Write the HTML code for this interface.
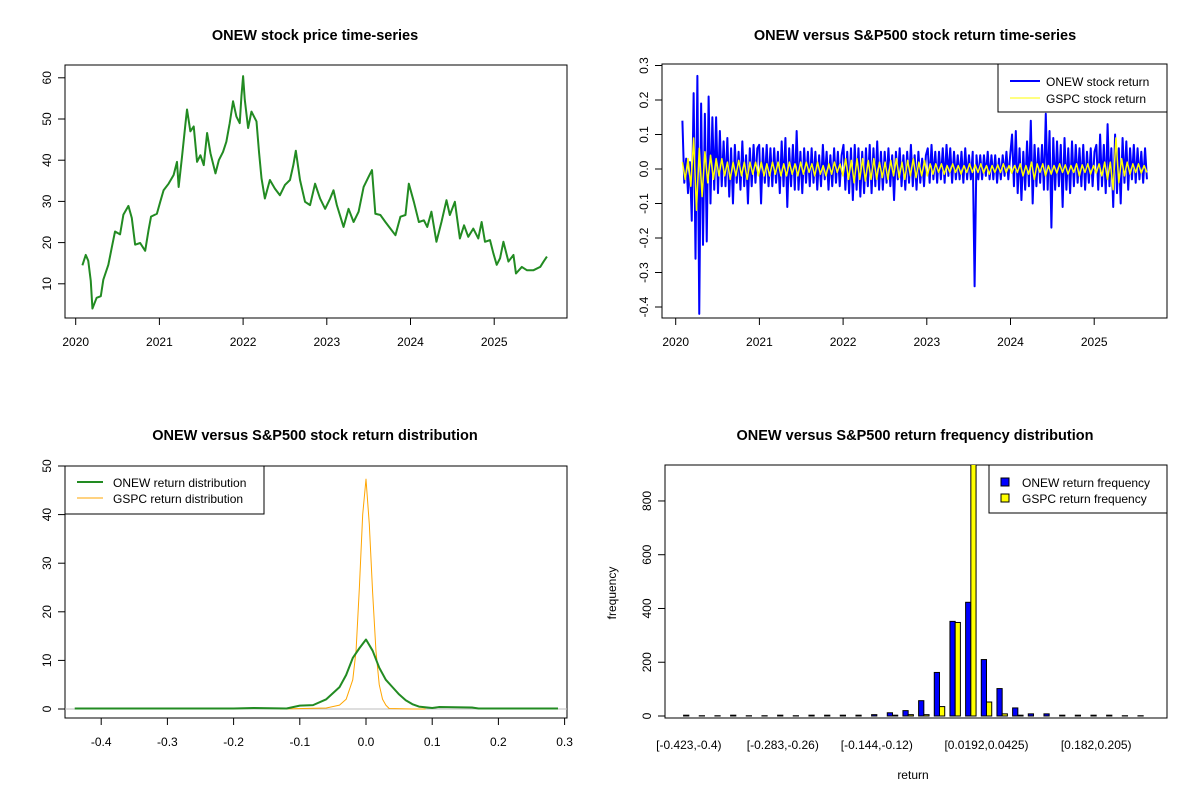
<!DOCTYPE html>
<html><head><meta charset="utf-8"><style>
body{margin:0;background:#fff}
svg{display:block;font-family:"Liberation Sans",Arial,sans-serif}
.t{font-weight:bold;font-size:14.5px;text-anchor:middle}
.tk{font-size:12px}
</style></head><body>
<svg id="c" width="1200" height="800" xmlns="http://www.w3.org/2000/svg">
<rect width="1200" height="800" fill="#fff"/>
<text class="t" x="315" y="40">ONEW stock price time-series</text>
<text class="t" x="915" y="40">ONEW versus S&amp;P500 stock return time-series</text>
<text class="t" x="315" y="440">ONEW versus S&amp;P500 stock return distribution</text>
<text class="t" x="915" y="440">ONEW versus S&amp;P500 return frequency distribution</text>
<text class="tk" x="913" y="779" text-anchor="middle">return</text>
<text class="tk" transform="translate(616,593) rotate(-90)" text-anchor="middle">frequency</text>
<g id="g"></g>
</svg>
<script>
// ---- Panel 1: price ----
const priceYears=[0.08,0.12,0.15,0.18,0.20,0.25,0.30,0.33,0.39,0.43,0.47,0.53,0.57,0.63,0.67,0.71,0.77,0.83,0.87,0.90,0.97,1.01,1.05,1.11,1.17,1.21,1.23,1.27,1.31,1.33,1.37,1.41,1.45,1.49,1.53,1.57,1.61,1.67,1.71,1.76,1.80,1.84,1.88,1.92,1.96,1.98,2.00,2.02,2.06,2.10,2.16,2.19,2.22,2.26,2.32,2.38,2.44,2.50,2.56,2.60,2.63,2.68,2.74,2.80,2.86,2.92,2.98,3.04,3.08,3.12,3.20,3.26,3.32,3.38,3.44,3.50,3.54,3.58,3.64,3.70,3.76,3.82,3.88,3.94,3.98,4.04,4.10,4.16,4.20,4.25,4.31,4.37,4.43,4.47,4.53,4.59,4.64,4.69,4.75,4.81,4.85,4.89,4.95,4.99,5.03,5.07,5.11,5.17,5.23,5.26,5.33,5.39,5.47,5.55,5.59,5.63];
const prices=[14.5,17,15.6,10.7,4,6.6,7,11,14.6,18.7,22.7,22,26.8,28.9,26,19.5,19.9,18,23,26.3,27,29.9,32.7,34.3,36.4,39.6,33.5,40.8,48.6,52.3,47,48.2,39.6,41.2,38.8,46.6,41.7,36.8,40,42,44.5,49,54.3,50.6,49,55.5,60.4,54.7,47.8,51.8,49.4,42,35.6,30.7,35.2,33.1,31.5,34,35.2,38.8,42.3,35.2,29.9,29.1,34.3,30.7,28.2,30.7,32.7,29.1,23.8,28.2,25,27.5,33.5,36,37.6,27,26.7,25,23.4,21.8,26.3,26.7,34.3,29.9,25,25.4,23.8,27.5,20.2,25,30.3,26.7,29.9,21,24.2,21.4,23.4,21,25,20.2,20.6,17.4,14.6,16.2,20.2,15.4,17,12.5,14.1,13.3,13.3,14.1,15.4,16.6];
const priceTicks=[10,20,30,40,50,60];
const yearTicks=[2020,2021,2022,2023,2024,2025];
// ---- Panel 2: returns ----
const onewReturns=[0.14,-0.04,0.03,-0.07,0.02,-0.15,0.22,-0.26,0.27,-0.42,0.19,-0.22,0.16,-0.21,
0.21,-0.1,0.15,-0.06,0.15,-0.07,0.11,-0.05,0.08,-0.05,0.09,-0.08,0.06,-0.1,0.07,-0.04,0.05,-0.06,0.08,-0.05,0.04,-0.1,0.06,-0.05,0.07,-0.04,0.06,
0.07,-0.1,0.06,-0.04,0.07,-0.05,0.06,-0.05,0.06,-0.04,0.05,-0.07,0.08,-0.05,0.09,-0.11,0.06,-0.05,0.07,-0.06,0.11,-0.06,0.05,-0.07,0.06,-0.04,0.05,-0.05,0.06,-0.04,0.05,-0.06,0.04,-0.05,0.07,-0.03,0.05,-0.06,0.04,-0.05,0.06,-0.04,0.05,-0.05,0.04,
0.07,-0.06,0.05,-0.07,0.06,-0.09,0.07,-0.06,0.06,-0.08,0.05,-0.07,0.06,-0.05,0.07,-0.07,0.06,-0.05,0.08,-0.06,0.05,-0.06,0.05,-0.04,0.06,-0.05,0.04,-0.09,0.05,-0.03,0.06,-0.05,0.04,-0.06,0.05,-0.04,0.07,-0.05,0.04,-0.06,0.05,-0.04,0.03,-0.05,0.04,
0.06,-0.04,0.07,-0.03,0.05,-0.04,0.05,-0.03,0.06,-0.04,0.07,-0.02,0.06,-0.04,0.05,-0.03,0.04,-0.03,0.05,-0.04,0.06,-0.03,0.04,-0.03,0.05,-0.34,0.04,-0.03,0.04,-0.03,0.04,-0.02,0.05,-0.03,0.04,-0.03,0.04,-0.04,0.03,-0.03,0.04,-0.02,0.05,-0.03,0.04,
0.1,-0.05,0.11,-0.07,0.06,-0.09,0.05,-0.06,0.08,-0.05,0.14,-0.1,0.07,-0.05,0.06,-0.04,0.07,-0.06,0.16,-0.06,0.11,-0.17,0.09,-0.06,0.08,-0.05,0.07,-0.11,0.09,-0.06,0.06,-0.07,0.08,-0.05,0.07,-0.04,0.06,-0.05,0.07,-0.06,0.05,-0.04,0.06,-0.05,0.05,
0.07,-0.06,0.1,-0.05,0.07,-0.07,0.13,-0.05,0.06,-0.11,0.1,-0.07,0.06,-0.1,0.09,-0.04,0.08,-0.06,0.06,-0.03,0.07,-0.04,0.06,-0.03,0.05,-0.04,0.06,-0.03];
const gspcReturns=[0.02,-0.03,0.03,-0.05,0.09,-0.12,0.06,-0.08,0.05,-0.04,0.04,-0.03,0.03,-0.02,0.03,-0.02,0.02,-0.03,0.02,-0.02,0.025,-0.02,0.02,-0.03,0.02,-0.015,0.02,-0.02,
0.02,-0.02,0.015,-0.02,0.02,-0.015,0.02,-0.02,0.015,-0.02,0.02,-0.015,0.015,-0.02,0.02,-0.015,0.02,-0.01,0.015,-0.02,0.02,-0.015,0.01,-0.02,0.015,-0.015,0.02,-0.01,0.015,-0.02,
0.03,-0.03,0.025,-0.04,0.03,-0.03,0.03,-0.035,0.025,-0.03,0.03,-0.03,0.02,-0.025,0.02,-0.03,0.025,-0.02,0.03,-0.025,0.02,-0.03,0.025,-0.02,0.03,-0.025,0.02,-0.02,0.025,-0.02,
0.015,-0.015,0.015,-0.01,0.015,-0.015,0.01,-0.01,0.015,-0.01,0.01,-0.015,0.01,-0.01,0.015,-0.01,0.012,-0.01,0.015,-0.012,0.01,-0.015,0.01,-0.01,0.012,-0.01,0.015,-0.01,0.01,-0.012,
0.01,-0.01,0.015,-0.02,0.01,-0.015,0.02,-0.03,0.015,-0.01,0.015,-0.02,0.01,-0.015,0.01,-0.012,0.015,-0.01,0.012,-0.015,0.01,-0.01,0.015,-0.02,0.012,-0.01,0.015,-0.015,0.01,-0.012,
0.015,-0.02,0.02,-0.03,0.02,-0.06,0.09,-0.04,0.03,-0.02,0.02,-0.015,0.015,-0.01,0.015,-0.012,0.01,-0.01];
const returnStartYear=2020.08, returnEndYear=2025.63;
const returnTicks=[-0.4,-0.3,-0.2,-0.1,0,0.1,0.2,0.3];
// ---- Panel 3: density ----
const onewDensX=[-0.44,-0.2,-0.17,-0.12,-0.1,-0.08,-0.06,-0.04,-0.03,-0.02,-0.01,0,0.01,0.02,0.03,0.04,0.05,0.06,0.07,0.08,0.1,0.11,0.16,0.17,0.29];
const onewDensY=[0.1,0.1,0.2,0.1,0.7,0.8,2,4.5,7,10.5,12.5,14.3,12,8.5,6,4.5,3,1.8,1,0.5,0.2,0.4,0.3,0.1,0.1];
const gspcDensX=[-0.13,-0.06,-0.04,-0.03,-0.02,-0.015,-0.01,-0.005,0,0.005,0.01,0.015,0.02,0.025,0.03,0.035,0.07,0.09];
const gspcDensY=[0,0.2,0.8,2,6,12,25,40,47.3,38,24,12,5,2,0.8,0.1,0,0];
const densXTicks=[-0.4,-0.3,-0.2,-0.1,0,0.1,0.2,0.3];
const densYTicks=[0,10,20,30,40,50];
// ---- Panel 4: histogram ----
const binLabels=["[-0.423,-0.4)","","","","","","[-0.283,-0.26)","","","","","","[-0.144,-0.12)","","","","","","","[0.0192,0.0425)","","","","","","","[0.182,0.205)","","",""];
const onewCounts=[3,1,1,3,1,1,3,1,3,3,3,3,5,12,20,57,162,352,423,210,102,30,8,8,3,3,3,3,1,1];
const gspcCounts=[0,0,0,0,0,0,0,0,0,0,0,0,0,3,5,5,35,348,960,52,8,3,0,0,0,0,0,0,0,0];
const freqTicks=[0,200,400,600,800];

const NS="http://www.w3.org/2000/svg", G=document.getElementById('g');
function mk(t,a,p){const e=document.createElementNS(NS,t);for(const k in a)e.setAttribute(k,a[k]);(p||G).appendChild(e);return e;}
function box(x0,y0,x1,y1,name){const r=mk('rect',{x:x0,y:y0,width:x1-x0,height:y1-y0,fill:'none',stroke:'#000','stroke-width':1});

}
function xAxis(vals,fx,yb,labels,name){const g=mk('g',{});


mk('line',{x1:fx(vals[0]),x2:fx(vals[vals.length-1]),y1:yb,y2:yb,stroke:'#000'},g);
vals.forEach((v,i)=>{mk('line',{x1:fx(v),x2:fx(v),y1:yb,y2:yb+7,stroke:'#000'},g);
const t=mk('text',{x:fx(v),y:yb+28,'text-anchor':'middle',class:'tk'},g);t.textContent=labels[i];});}
function yAxis(vals,fy,xl,labels,name){const g=mk('g',{});


mk('line',{x1:xl,x2:xl,y1:fy(vals[0]),y2:fy(vals[vals.length-1]),stroke:'#000'},g);
vals.forEach((v,i)=>{mk('line',{x1:xl,x2:xl-7,y1:fy(v),y2:fy(v),stroke:'#000'},g);
const t=mk('text',{transform:`translate(${xl-14},${fy(v)}) rotate(-90)`,'text-anchor':'middle',class:'tk'},g);t.textContent=labels[i];});}
function poly(xs,ys,color,w,name,clip){const p=mk('polyline',{points:xs.map((x,i)=>x+','+ys[i]).join(' '),fill:'none',stroke:color,'stroke-width':w,'stroke-linejoin':'round'});
if(clip)p.setAttribute('clip-path',clip);

}

// Panel 1
{const fx=y=>75.7+(y-2020)*83.7, fy=v=>283.8-(v-10)*4.12;
box(65,65,567,318,'price-plot-box');
xAxis(yearTicks,fx,318,yearTicks.map(String),'price-x-axis');
yAxis(priceTicks,fy,65,priceTicks.map(String),'price-y-axis');
poly(priceYears.map(y=>fx(2020+y)),prices.map(fy),'#228B22',2,'price-line');}

// Panel 2
{const fx=y=>675.7+(y-2020)*83.7, fy=v=>169-v*345;
box(662,64,1167,318,'return-plot-box');
xAxis(yearTicks,fx,318,yearTicks.map(String),'return-x-axis');
yAxis(returnTicks,fy,662,returnTicks.map(v=>v.toFixed(1)),'return-y-axis');
const n1=onewReturns.length, n2=gspcReturns.length;
poly(onewReturns.map((v,i)=>fx(returnStartYear+i*(returnEndYear-returnStartYear)/(n1-1))),onewReturns.map(fy),'#0000FF',2,'onew-return-line');
poly(gspcReturns.map((v,i)=>fx(returnStartYear+i*(returnEndYear-returnStartYear)/(n2-1))),gspcReturns.map(fy),'#FFFF00',1.5,'gspc-return-line');
const lg=mk('g',{});
mk('rect',{x:998,y:64,width:169,height:48,fill:'#fff',stroke:'#000'},lg);
mk('line',{x1:1010,x2:1040,y1:81,y2:81,stroke:'#0000FF','stroke-width':2},lg);
mk('line',{x1:1010,x2:1040,y1:98,y2:98,stroke:'#FFFF00','stroke-width':1},lg);
let t=mk('text',{x:1046,y:86,class:'tk'},lg);t.textContent='ONEW stock return';
t=mk('text',{x:1046,y:103,class:'tk'},lg);t.textContent='GSPC stock return';}

// Panel 3
{const fx=v=>366+v*662, fy=v=>709-v*4.86;
box(65,466,567,718,'distribution-plot-box');
xAxis(densXTicks,fx,718,densXTicks.map(v=>v.toFixed(1)),'distribution-x-axis');
yAxis(densYTicks,fy,65,densYTicks.map(String),'distribution-y-axis');
const z=mk('line',{x1:65,x2:567,y1:fy(0),y2:fy(0),stroke:'#bebebe'});
poly(gspcDensX.map(fx),gspcDensY.map(fy),'#FFA500',1,'gspc-density-line');
poly(onewDensX.map(fx),onewDensY.map(fy),'#228B22',2,'onew-density-line');
const lg=mk('g',{});
mk('rect',{x:65,y:466,width:199,height:48,fill:'#fff',stroke:'#000'},lg);
mk('line',{x1:77,x2:103,y1:482,y2:482,stroke:'#228B22','stroke-width':2},lg);
mk('line',{x1:77,x2:103,y1:498,y2:498,stroke:'#FFA500','stroke-width':1},lg);
let t=mk('text',{x:113,y:487,class:'tk'},lg);t.textContent='ONEW return distribution';
t=mk('text',{x:113,y:503,class:'tk'},lg);t.textContent='GSPC return distribution';}

// Panel 4
{const u=502/96.12, fx=v=>665+(v+2.56)*u, fy=v=>716-v*0.2688;
const cp=mk('clipPath',{id:'hc'});mk('rect',{x:665,y:465,width:502,height:253},cp);
box(665,465,1167,718,'frequency-plot-box');
yAxis(freqTicks,fy,665,freqTicks.map(String),'frequency-y-axis');
onewCounts.forEach((c,k)=>{const r=mk('rect',{x:fx(1+3*k),y:fy(c),width:u,height:fy(0)-fy(c),fill:'#0000FF',stroke:'#000','stroke-width':1,'clip-path':'url(#hc)'});

});
gspcCounts.forEach((c,k)=>{const r=mk('rect',{x:fx(2+3*k),y:fy(c),width:u,height:fy(0)-fy(c),fill:'#FFFF00',stroke:'#000','stroke-width':1,'clip-path':'url(#hc)'});

});
binLabels.forEach((l,k)=>{if(!l)return;const t=mk('text',{x:fx(2+3*k),y:749,'text-anchor':'middle',class:'tk'});t.textContent=l;

});
const lg=mk('g',{});
mk('rect',{x:989,y:465,width:178,height:48,fill:'#fff',stroke:'#000'},lg);
mk('rect',{x:1001,y:478,width:8,height:8,fill:'#0000FF',stroke:'#000'},lg);
mk('rect',{x:1001,y:494,width:8,height:8,fill:'#FFFF00',stroke:'#000'},lg);
let t=mk('text',{x:1022,y:487,class:'tk'},lg);t.textContent='ONEW return frequency';
t=mk('text',{x:1022,y:503,class:'tk'},lg);t.textContent='GSPC return frequency';}
</script>
</body></html>
